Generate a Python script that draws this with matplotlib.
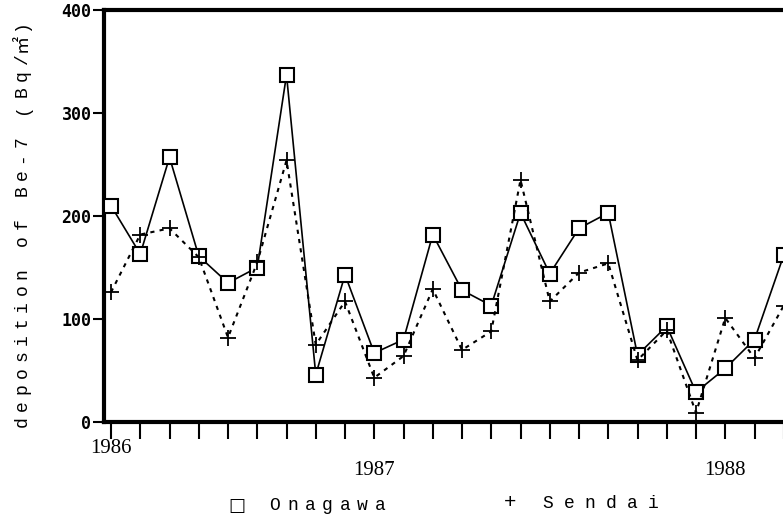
import numpy as np
import matplotlib.pyplot as plt

# monthly deposition, starting April 1986
months = np.arange(24)
onagawa = [210, 163, 257, 161, 135, 150, 337, 46, 143, 67, 80, 182,
           128, 113, 203, 144, 188, 203, 65, 93, 29, 52, 80, 162]
sendai = [126, 182, 188, 160, 82, 155, 254, 75, 117, 43, 64, 129,
          70, 88, 235, 117, 145, 154, 60, 89, 9, 101, 62, 113]
year_idx = [0, 9, 21]
year_labels = ["1986", "1987", "1988"]
yticks = [0, 100, 200, 300, 400]

W, H = 783, 518
MONO = ["Liberation Mono", "Noto Sans CJK JP"]


def spread(text, x0, y0, dx, dy, rot=0, size=13):
    # old plotter style: fixed spacing between every character
    for k, ch in enumerate(text):
        if ch == " ":
            continue
        fig.text((x0 + k*dx)/W, 1 - (y0 + k*dy)/H, ch, rotation=rot,
                 ha="center", va="center", fontsize=size, family=MONO)


fig = plt.figure(figsize=(7.83, 5.18), dpi=100)
# axes runs past the right edge of the figure, as in the scan
ax = fig.add_axes([104/W, 96/H, (813-104)/W, 412/H])
ax.set_xlim(-0.24, 24)
ax.set_ylim(0, 400)

ax.plot(months, onagawa, "k-", lw=1.2, marker="s", ms=9.5, mfc="white",
        mec="black", mew=1.5, clip_on=False, zorder=3)
ax.plot(months, sendai, color="black", ls=(0, (2, 2.5)), lw=1.5, marker="+",
        ms=12, mew=1.3, clip_on=False, zorder=4)

for side in ["left", "bottom", "top"]:
    ax.spines[side].set_linewidth(3)
ax.spines["right"].set_visible(False)

ax.set_yticks(yticks)
ax.set_yticklabels([str(v) for v in yticks], family="DejaVu Sans Mono",
                   fontsize=12, fontweight="bold")
ax.tick_params(axis="y", direction="out", length=8, width=1.5, pad=1)
ax.set_xticks(months)
ax.set_xticklabels([])
ax.tick_params(axis="x", direction="out", length=12, width=1.5)

tr = ax.get_xaxis_transform()
for i, lab in zip(year_idx, year_labels):
    yy = -0.065 if i == 0 else -0.118
    ax.text(i, yy, lab, transform=tr, ha="center", va="center",
            family="Liberation Serif", fontsize=15)

spread("deposition of Be-7 (Bq/㎡)", 22, 422, 0, -16.5, rot=90, size=13)

fig.text(237/W, 1 - 506/H, "□", ha="center", va="center", fontsize=13,
         family="DejaVu Sans")
spread("Onagawa", 275, 505, 17.5, 0)
spread("+", 510, 503, 0, 0, size=15)
spread("Sendai", 548, 503, 21, 0)

fig.savefig("out.png", dpi=100)
